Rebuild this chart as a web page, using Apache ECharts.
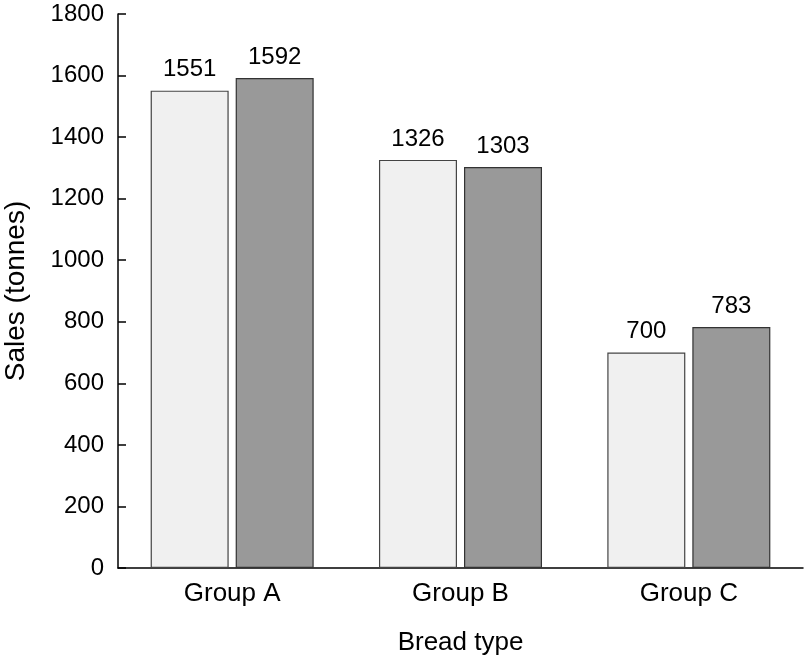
<!DOCTYPE html>
<html>
<head>
<meta charset="utf-8">
<script src="https://cdn.jsdelivr.net/npm/echarts@6/dist/echarts.min.js"></script>
<style>html,body{margin:0;padding:0;background:#fff}#c{width:806px;height:655px}</style>
</head>
<body>
<div id="c"></div>
<script>
var categories = ['Group A', 'Group B', 'Group C'];
var series1 = [1551, 1326, 700];
var series2 = [1592, 1303, 783];
var yTicks = { min: 0, max: 1800, interval: 200 };

var font = 'Liberation Sans, Arial, Helvetica, sans-serif';
var chart = echarts.init(document.getElementById('c'));
chart.setOption({
  animation: false,
  grid: { left: 118, right: 3, top: 14, bottom: 87, containLabel: false, outerBoundsMode: 'none' },
  xAxis: {
    type: 'category',
    data: categories,
    name: 'Bread type',
    nameLocation: 'middle',
    nameGap: 62,
    nameTextStyle: { fontSize: 26, color: '#000', fontFamily: font },
    axisLine: { lineStyle: { color: '#000', width: 1.5 } },
    axisTick: { inside: true, length: 8, lineStyle: { color: '#000', width: 1.5 } },
    axisLabel: { fontSize: 26, color: '#000', fontFamily: font, margin: 13 }
  },
  yAxis: {
    type: 'value',
    min: yTicks.min, max: yTicks.max, interval: yTicks.interval,
    name: 'Sales (tonnes)',
    nameLocation: 'middle',
    nameGap: 88,
    nameTextStyle: { fontSize: 28, color: '#000', fontFamily: font },
    axisLine: { show: true, lineStyle: { color: '#000', width: 1.5 } },
    axisTick: { show: true, inside: true, length: 8, lineStyle: { color: '#000', width: 1.5 } },
    axisLabel: { fontSize: 24, color: '#000', fontFamily: font, margin: 14, formatter: function (v) { return String(v); } },
    splitLine: { show: false }
  },
  series: [
    {
      type: 'bar', data: series1, barWidth: 78, barGap: '9%',
      itemStyle: { color: '#f0f0f0', borderColor: '#444', borderWidth: 1.2 },
      label: { show: true, position: 'top', distance: 9, fontSize: 24, color: '#000', fontFamily: font }
    },
    {
      type: 'bar', data: series2, barWidth: 78, barGap: '9%',
      itemStyle: { color: '#999999', borderColor: '#333', borderWidth: 1.2 },
      label: { show: true, position: 'top', distance: 9, fontSize: 24, color: '#000', fontFamily: font }
    }
  ]
});
</script>
</body>
</html>
